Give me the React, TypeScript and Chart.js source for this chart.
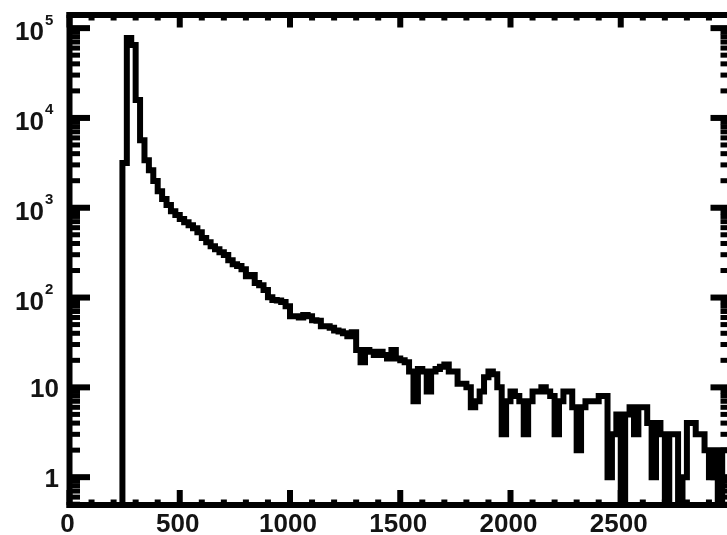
import React, { useEffect, useRef } from 'react';
import { Chart, registerables } from 'chart.js';

Chart.register(...registerables);

// Histogram: bin start, bin width, counts per bin
const BIN_LOW = 0;
const BIN_WIDTH = 20;
const counts: number[] = [
  0, 0, 0, 0, 0, 0, 0, 0, 0, 0, 0, 0,
  3140, 77400, 64700, 15800, 5660, 3390, 2620, 1980, 1530, 1250,
  1070, 916, 828, 747, 691, 640, 593, 535, 459, 414,
  373, 346, 320, 297, 261, 235, 224, 207, 173, 178,
  145, 137, 121, 101, 94, 93, 89, 80, 62, 62,
  60, 64, 62, 56, 55, 48, 48, 46, 43, 42,
  40, 37, 41, 26, 19, 26, 25, 23, 25, 23,
  21, 26, 21, 20, 19, 15, 7, 16, 15, 9,
  15, 16, 17, 18, 15, 15, 11, 11, 10, 6,
  7, 9, 13, 15, 14, 10, 3, 7, 9, 8,
  7, 3, 7, 9, 9, 10, 9, 8, 3, 7,
  9, 9, 6, 2, 6, 7, 7, 7, 8, 8,
  1, 3, 5, 0, 5, 6, 3, 6, 6, 4,
  1, 4, 3, 0, 3, 3, 0, 1, 4, 4,
  3, 3, 2, 1, 2, 0, 2, 2,
];

const X_MIN = 0;
const X_MAX = 3000;
const Y_MIN = 0.49;
const Y_MAX = 1.4e5;

const xMajorTicks = [0, 500, 1000, 1500, 2000, 2500, 3000];
const xMinorStep = 100;
const xTickLabels = ['0', '500', '1000', '1500', '2000', '2500'];

const yMajorTicks = [1, 10, 100, 1000, 10000, 100000];
const yTickBase = ['1', '10', '10', '10', '10', '10'];
const yTickSup = ['', '', '2', '3', '4', '5'];
const yMinorMantissas = [2, 3, 4, 5, 6, 7, 8, 9];
const yDecades = [0.1, 1, 10, 100, 1000, 10000, 100000];

const FONT = '"Liberation Sans", Arial, Helvetica, sans-serif';
const INK = '#000';
const TEXT = '#141414';

const axesPlugin = {
  id: 'idlAxes',
  afterDatasetsDraw(chart: any) {
    const { ctx, chartArea: a, scales } = chart;
    const xs = scales.x;
    const ys = scales.y;
    const T = 6;
    ctx.save();
    ctx.fillStyle = INK;
    // frame
    ctx.fillRect(a.left - T / 2, a.top - T / 2, a.right - a.left + T, T);
    ctx.fillRect(a.left - T / 2, a.bottom - T / 2, a.right - a.left + T, T);
    ctx.fillRect(a.left - T / 2, a.top - T / 2, T, a.bottom - a.top + T);
    ctx.fillRect(a.right - T / 2, a.top - T / 2, T, a.bottom - a.top + T);

    // x ticks (bottom up, top down)
    for (let v = X_MIN; v <= X_MAX + 1e-6; v += xMinorStep) {
      const px = xs.getPixelForValue(v);
      const major = xMajorTicks.includes(v);
      const lb = major ? 15 : 5.5;
      const lt = major ? 12.5 : 5.5;
      ctx.fillRect(px - 3, a.bottom - lb, 6, lb);
      ctx.fillRect(px - 3, a.top, 6, lt);
    }
    // y ticks (left right-ward, right left-ward)
    const yMinor: number[] = [];
    yDecades.forEach((d) => yMinorMantissas.forEach((m) => yMinor.push(m * d)));
    const drawY = (v: number, len: number, th: number) => {
      if (v < Y_MIN || v > Y_MAX) return;
      const py = ys.getPixelForValue(v);
      ctx.fillRect(a.left, py - th / 2, len, th);
      ctx.fillRect(a.right - len, py - th / 2, len, th);
    };
    yMinor.forEach((v) => drawY(v, 10.5, 5));
    yMajorTicks.forEach((v) => drawY(v, 20.5, 6));

    // labels
    ctx.fillStyle = TEXT;
    ctx.textBaseline = 'alphabetic';
    ctx.font = `bold 26px ${FONT}`;
    ctx.textAlign = 'center';
    xTickLabels.forEach((lab, i) => {
      const px = xs.getPixelForValue(xMajorTicks[i]);
      ctx.fillText(lab, px - 2, 532);
    });
    yMajorTicks.forEach((v, i) => {
      const py = ys.getPixelForValue(v);
      if (yTickSup[i]) {
        ctx.font = `bold 26px ${FONT}`;
        ctx.textAlign = 'right';
        ctx.fillText(yTickBase[i], 44, py + 12);
        ctx.font = `bold 15px ${FONT}`;
        ctx.textAlign = 'left';
        ctx.fillText(yTickSup[i], 45, py - 3.5);
      } else {
        ctx.font = `bold 26px ${FONT}`;
        ctx.textAlign = 'right';
        ctx.fillText(yTickBase[i], 59, py + 9.5);
      }
    });
    ctx.restore();
  },
};

export default function App() {
  const ref = useRef<HTMLCanvasElement | null>(null);
  useEffect(() => {
    if (!ref.current) return;
    // empty bins sit on the axis floor of the log scale
    const pts = counts.map((c, i) => ({ x: BIN_LOW + i * BIN_WIDTH, y: c > 0 ? c : Y_MIN }));
    pts.push({ x: BIN_LOW + counts.length * BIN_WIDTH, y: pts[pts.length - 1].y });
    const chart = new Chart(ref.current, {
      type: 'line',
      data: {
        datasets: [
          {
            data: pts,
            borderColor: INK,
            borderWidth: 6,
            pointRadius: 0,
            stepped: 'before',
            borderJoinStyle: 'miter',
            borderCapStyle: 'butt',
            fill: false,
          },
        ],
      },
      options: {
        responsive: false,
        maintainAspectRatio: false,
        animation: false,
        devicePixelRatio: 1,
        layout: { padding: { left: 69.5, right: 14, top: 15, bottom: 30 } },
        plugins: { legend: { display: false }, tooltip: { enabled: false } },
        scales: {
          x: { type: 'linear', min: X_MIN, max: X_MAX, display: false },
          y: { type: 'logarithmic', min: Y_MIN, max: Y_MAX, display: false },
        },
      },
      plugins: [axesPlugin],
    } as any);
    return () => chart.destroy();
  }, []);
  return (
    <div
      style={{
        position: 'absolute',
        left: 0,
        top: 0,
        width: 727,
        height: 535,
        overflow: 'hidden',
        background: '#fff',
      }}
    >
      <canvas ref={ref} width={745} height={535} style={{ display: 'block', width: 745, height: 535 }} />
    </div>
  );
}
